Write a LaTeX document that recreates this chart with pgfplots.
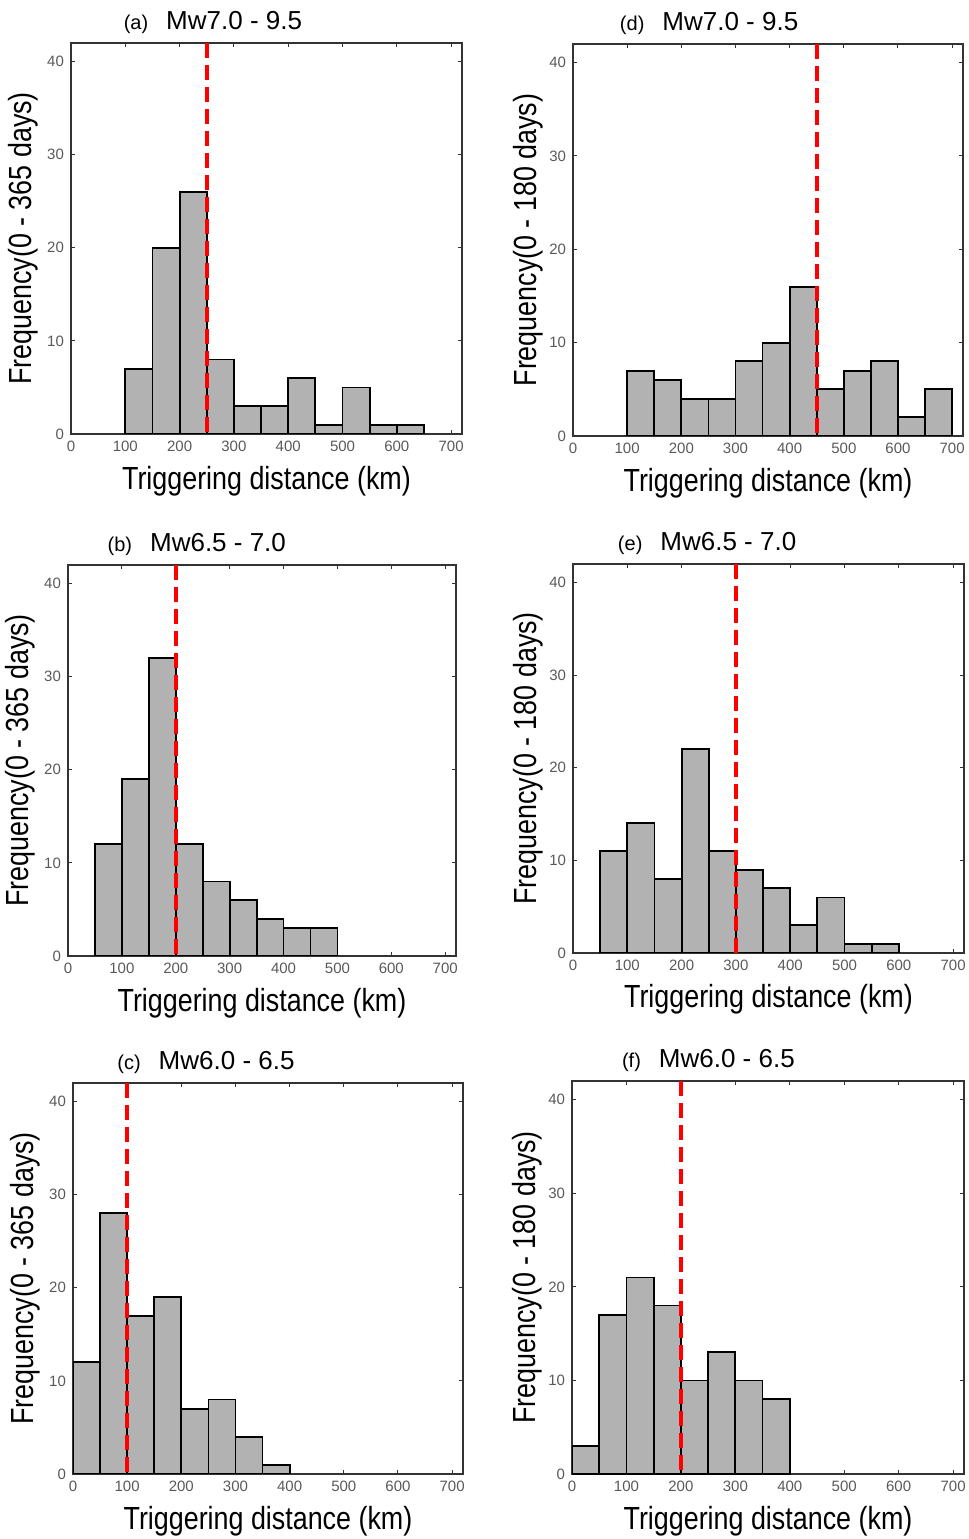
\documentclass[border=0pt]{standalone}
\usepackage{fontspec}
\setmainfont{Liberation Sans}
\usepackage{graphicx}
\usepackage{pgfplots}
\pgfplotsset{compat=1.18}

\pgfplotsset{
  hist/.style={
    scale only axis,
    anchor=south west,
    xmin=0, xmax=720, ymin=0, ymax=42,
    xtick={0,100,...,700}, ytick={0,10,...,40},
    tick align=inside, tick pos=both,
    major tick length=2pt,
    axis line style={black!80, line width=0.6pt},
    every tick/.style={black!80, line width=0.5pt},
    tick label style={font=\fontsize{7.5}{9}\selectfont, text=black!65},
    /pgf/number format/assume math mode=true,
    label style={font=\fontsize{16}{18}\selectfont},
    xlabel={\scalebox{0.84}[1]{Triggering distance (km)}},
    xlabel style={at={(axis description cs:0.5,-0.12)}, anchor=center},
    title style={font=\fontsize{13}{15}\selectfont, anchor=center},
  },
  left/.style={ylabel={\scalebox{0.84}[1]{Frequency(0 - 365 days)}},
    ylabel style={at={(axis description cs:-0.123,0.5)}, anchor=center}},
  right/.style={ylabel={\scalebox{0.84}[1]{Frequency(0 - 180 days)}},
    ylabel style={at={(axis description cs:-0.115,0.5)}, anchor=center}},
  bars/.style={ybar interval, fill=black!30, draw=black, line width=0.9pt},
  redline/.style={red, line width=2pt, dash pattern=on 7.5pt off 3.5pt},
}
\newcommand{\ttl}[2]{{\fontsize{10}{12}\selectfont (#1)}\hspace{9pt}#2}

\begin{document}
\begin{tikzpicture}
\useasboundingbox (0,0) rectangle (484.5pt,769.5pt);

% (a)
\begin{axis}[hist, left, at={(35.5pt,552.5pt)}, width=195.5pt, height=195.5pt,
  title={\ttl{a}{Mw7.0 - 9.5}}, title style={at={(axis description cs:0.363,1.021)}}]
\addplot[bars] coordinates {(100,7) (150,20) (200,26) (250,8) (300,3) (350,3) (400,6) (450,1) (500,5) (550,1) (600,1) (650,0)};
\addplot[redline] coordinates {(250,42) (250,0)};
\end{axis}

% (d)
\begin{axis}[hist, right, at={(286.5pt,551.5pt)}, width=195pt, height=196pt,
  title={\ttl{d}{Mw7.0 - 9.5}}, title style={at={(axis description cs:0.349,1.021)}}]
\addplot[bars] coordinates {(100,7) (150,6) (200,4) (250,4) (300,8) (350,10) (400,16) (450,5) (500,7) (550,8) (600,2) (650,5) (700,0)};
\addplot[redline] coordinates {(450,42) (450,0)};
\end{axis}

% (b)
\begin{axis}[hist, left, at={(34pt,291.5pt)}, width=194pt, height=195.5pt,
  title={\ttl{b}{Mw6.5 - 7.0}}, title style={at={(axis description cs:0.332,1.021)}}]
\addplot[bars] coordinates {(50,12) (100,19) (150,32) (200,12) (250,8) (300,6) (350,4) (400,3) (450,3) (500,0)};
\addplot[redline] coordinates {(200,42) (200,0)};
\end{axis}

% (e)
\begin{axis}[hist, right, at={(286.5pt,293pt)}, width=195.5pt, height=194.5pt,
  title={\ttl{e}{Mw6.5 - 7.0}}, title style={at={(axis description cs:0.343,1.021)}}]
\addplot[bars] coordinates {(50,11) (100,14) (150,8) (200,22) (250,11) (300,9) (350,7) (400,3) (450,6) (500,1) (550,1) (600,0)};
\addplot[redline] coordinates {(300,42) (300,0)};
\end{axis}

% (c)
\begin{axis}[hist, left, at={(36.5pt,32.5pt)}, width=195pt, height=195.5pt,
  title={\ttl{c}{Mw6.0 - 6.5}}, title style={at={(axis description cs:0.341,1.021)}}]
\addplot[bars] coordinates {(0,12) (50,28) (100,17) (150,19) (200,7) (250,8) (300,4) (350,1) (400,0)};
\addplot[redline] coordinates {(100,42) (100,0)};
\end{axis}

% (f)
\begin{axis}[hist, right, at={(286pt,32.5pt)}, width=196pt, height=196.5pt,
  title={\ttl{f}{Mw6.0 - 6.5}}, title style={at={(axis description cs:0.348,1.021)}}]
\addplot[bars] coordinates {(0,3) (50,17) (100,21) (150,18) (200,10) (250,13) (300,10) (350,8) (400,0)};
\addplot[redline] coordinates {(200,42) (200,0)};
\end{axis}
\end{tikzpicture}
\end{document}
